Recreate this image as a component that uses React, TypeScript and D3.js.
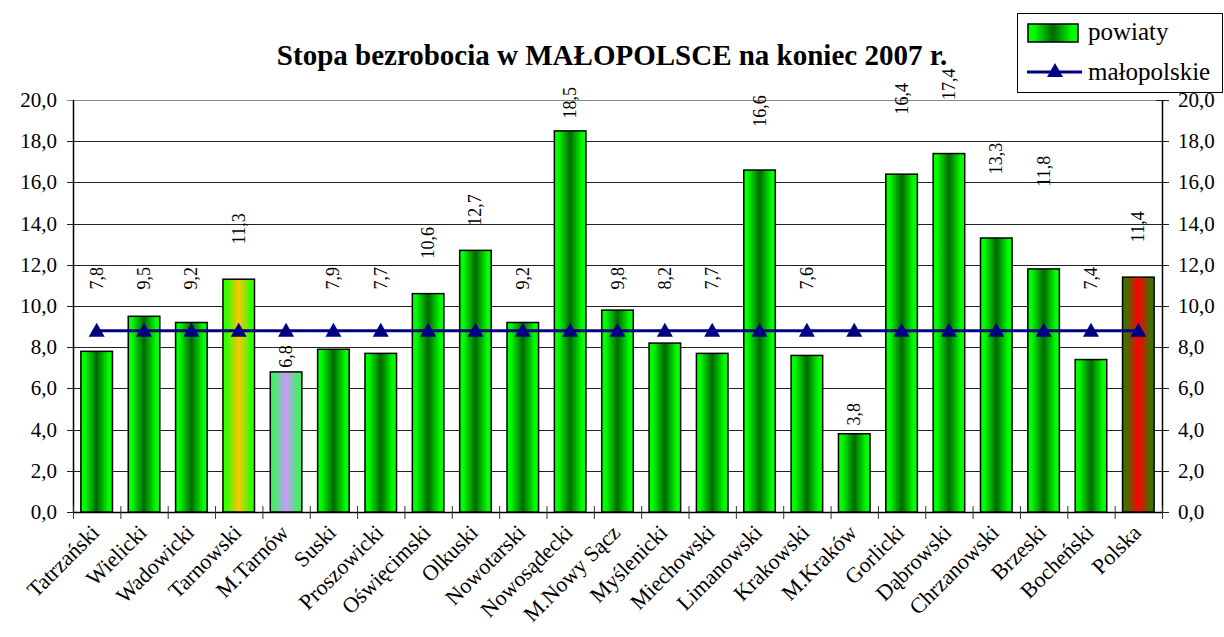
import React from 'react';
import * as d3 from 'd3';

const categories = ['Tatrzański', 'Wielicki', 'Wadowicki', 'Tarnowski', 'M.Tarnów', 'Suski', 'Proszowicki', 'Oświęcimski', 'Olkuski', 'Nowotarski', 'Nowosądecki', 'M.Nowy Sącz', 'Myślenicki', 'Miechowski', 'Limanowski', 'Krakowski', 'M.Kraków', 'Gorlicki', 'Dąbrowski', 'Chrzanowski', 'Brzeski', 'Bocheński', 'Polska'];
const powiaty = [7.8, 9.5, 9.2, 11.3, 6.8, 7.9, 7.7, 10.6, 12.7, 9.2, 18.5, 9.8, 8.2, 7.7, 16.6, 7.6, 3.8, 16.4, 17.4, 13.3, 11.8, 7.4, 11.4];
const malopolskie = [8.8, 8.8, 8.8, 8.8, 8.8, 8.8, 8.8, 8.8, 8.8, 8.8, 8.8, 8.8, 8.8, 8.8, 8.8, 8.8, 8.8, 8.8, 8.8, 8.8, 8.8, 8.8, 8.8];
// value-axis level where each (hand placed) data label starts
const labelAt = [10.8, 10.8, 10.8, 13.0, 7.0, 10.8, 10.8, 12.3, 13.9, 10.8, 19.1, 10.8, 10.8, 10.8, 18.7, 10.8, 4.2, 19.3, 20.0, 16.4, 15.8, 10.8, 13.1];
const yTicks = [0, 2, 4, 6, 8, 10, 12, 14, 16, 18, 20];

// special bar fills (edge colour, centre colour)
const specialFills: Record<string, [string, string]> = {
  'Tarnowski': ['#33ff00', '#ffc400'],
  'M.Tarnów': ['#44ee66', '#cc99ff'],
  'Polska': ['#3f7000', '#ff0000'],
};

const font = "'Liberation Serif', 'Times New Roman', serif";
const fmt = (v: number) => v.toFixed(1).replace('.', ',');

export default function App() {
  const width = 1224;
  const height = 637;
  const margin = { left: 73, right: 62, top: 100, bottom: 125 };

  const x = d3.scaleBand()
    .domain(categories)
    .range([margin.left, width - margin.right])
    .paddingInner(1 / 3)
    .paddingOuter(1 / 6);
  const band = d3.scaleBand().domain(categories).range([margin.left, width - margin.right]);
  const y = d3.scaleLinear().domain([0, 20]).range([height - margin.bottom, margin.top]);

  const x0 = margin.left;
  const x1 = width - margin.right;
  const yBase = y(0);
  const tf = { fontFamily: font };

  const gradId = (c: string) => 'g' + categories.indexOf(c);
  const mid = (c: string) => (band(c) as number) + band.bandwidth() / 2;

  const line = d3.line<number>()
    .x((_, i) => mid(categories[i]))
    .y(d => y(d));

  const tri = (cx: number, cy: number) => `M${cx},${cy - 8}L${cx + 8},${cy + 6}L${cx - 8},${cy + 6}Z`;

  return (
    <div style={{ position: 'absolute', left: 0, top: 0 }}>
      <svg width={width} height={height} style={{ display: 'block', background: '#fff' }}>
        <defs>
          {categories.map(c => {
            const [edge, centre] = specialFills[c] || ['#00ff00', '#006800'];
            return (
              <linearGradient key={c} id={gradId(c)} x1="0" x2="1" y1="0" y2="0">
                <stop offset="0" stopColor={edge} />
                <stop offset="0.12" stopColor={edge} />
                <stop offset="0.5" stopColor={centre} />
                <stop offset="0.88" stopColor={edge} />
                <stop offset="1" stopColor={edge} />
              </linearGradient>
            );
          })}
        </defs>

        {/* grid + value axes */}
        {yTicks.map(t => (
          <g key={t}>
            <line x1={x0 - 6} x2={x1} y1={Math.round(y(t)) + 0.5} y2={Math.round(y(t)) + 0.5}
              stroke={t === 20 ? '#888' : '#222'} strokeWidth={1} />
            <line x1={x1 - 6} x2={x1 + 7} y1={Math.round(y(t)) + 0.5} y2={Math.round(y(t)) + 0.5} stroke="#222" />
            <text x={57} y={y(t) + 7} textAnchor="end" fontSize={21} style={tf}>{fmt(t)}</text>
            <text x={1178} y={y(t) + 7} textAnchor="start" fontSize={21} style={tf}>{fmt(t)}</text>
          </g>
        ))}

        <line x1={x0 + 0.5} x2={x0 + 0.5} y1={y(20)} y2={yBase} stroke="#000" strokeWidth={1.5} />
        <line x1={x1 + 0.5} x2={x1 + 0.5} y1={y(20)} y2={yBase} stroke="#000" strokeWidth={1.5} />
        <line x1={x0} x2={x1} y1={Math.round(yBase) + 0.5} y2={Math.round(yBase) + 0.5} stroke="#000" strokeWidth={1.5} />
        {categories.map(c => (
          <line key={c} x1={(band(c) as number) + 0.5} x2={(band(c) as number) + 0.5}
            y1={yBase - 6} y2={yBase + 7} stroke="#333" />
        ))}
        <line x1={x1 + 0.5} x2={x1 + 0.5} y1={yBase - 6} y2={yBase + 7} stroke="#333" />

        {/* bars */}
        {categories.map((c, i) => (
          <rect key={c} x={x(c)} y={y(powiaty[i])} width={x.bandwidth()} height={yBase - y(powiaty[i])}
            fill={`url(#${gradId(c)})`} stroke="#000" strokeWidth={1.5} />
        ))}

        {/* małopolskie line */}
        <path d={line(malopolskie) || ''} fill="none" stroke="#000080" strokeWidth={3} />
        {malopolskie.map((v, i) => (
          <path key={i} d={tri(mid(categories[i]), y(v))} fill="#000080" />
        ))}

        {/* value labels */}
        {categories.map((c, i) => (
          <text key={c} transform={`translate(${mid(c) + 6},${y(labelAt[i])}) rotate(-90)`}
            fontSize={18} textAnchor="start" style={tf}>
            {fmt(powiaty[i])}
          </text>
        ))}

        {/* category labels */}
        {categories.map(c => (
          <text key={c} transform={`translate(${mid(c) + 4},${yBase + 22}) rotate(-45)`}
            fontSize={22} textAnchor="end" style={tf}>
            {c}
          </text>
        ))}

        {/* title */}
        <text x={612} y={65} textAnchor="middle" fontSize={29} fontWeight="bold" style={tf}>
          Stopa bezrobocia w MAŁOPOLSCE na koniec 2007 r.
        </text>

        {/* legend */}
        <rect x={1017.5} y={13.5} width={205} height={79} fill="#fff" stroke="#000" />
        <rect x={1028} y={24} width={50} height={18} fill={`url(#${gradId('Tatrzański')})`} stroke="#000" strokeWidth={1.5} />
        <text x={1088} y={40} fontSize={25} style={tf}>powiaty</text>
        <line x1={1027} x2={1082} y1={72} y2={72} stroke="#000080" strokeWidth={3} />
        <path d={tri(1055, 71)} fill="#000080" />
        <text x={1088} y={80} fontSize={25} style={tf}>małopolskie</text>
      </svg>
    </div>
  );
}
